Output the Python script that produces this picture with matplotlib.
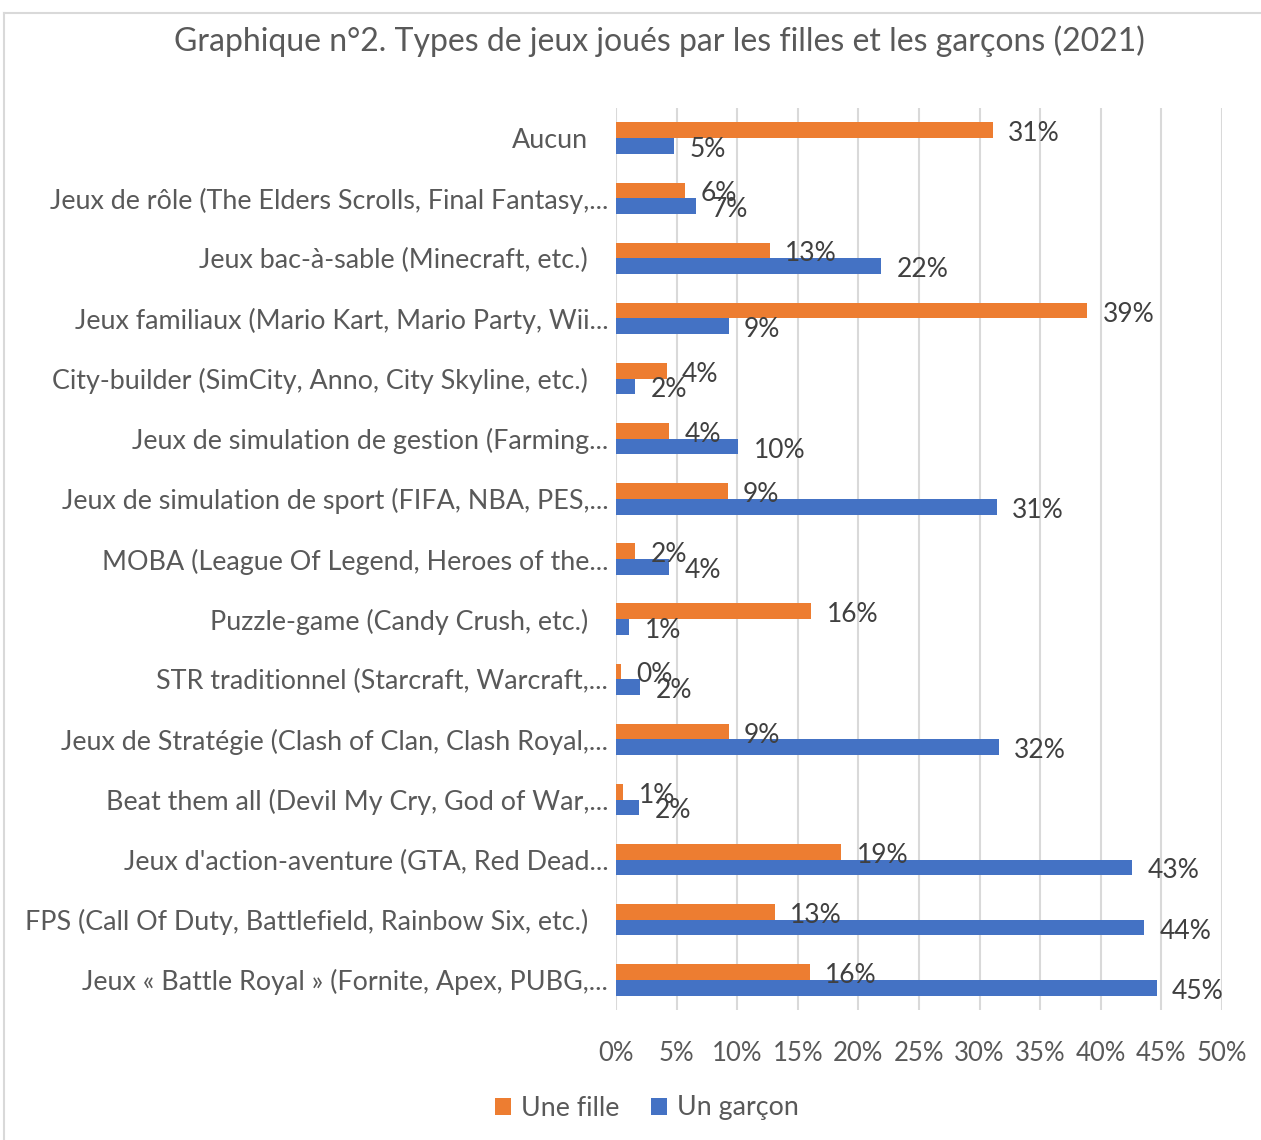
import matplotlib
matplotlib.use("Agg")
import matplotlib.pyplot as plt
from matplotlib.transforms import ScaledTranslation
from matplotlib.lines import Line2D
import numpy as np

categories = [
    "Aucun",
    "Jeux de rôle (The Elders Scrolls, Final Fantasy,...",
    "Jeux bac-à-sable (Minecraft, etc.)",
    "Jeux familiaux (Mario Kart, Mario Party, Wii...",
    "City-builder (SimCity, Anno, City Skyline, etc.)",
    "Jeux de simulation de gestion (Farming...",
    "Jeux de simulation de sport (FIFA, NBA, PES,...",
    "MOBA (League Of Legend, Heroes of the...",
    "Puzzle-game (Candy Crush, etc.)",
    "STR traditionnel (Starcraft, Warcraft,...",
    "Jeux de Stratégie (Clash of Clan, Clash Royal,...",
    "Beat them all (Devil My Cry, God of War,...",
    "Jeux d'action-aventure (GTA, Red Dead...",
    "FPS (Call Of Duty, Battlefield, Rainbow Six, etc.)",
    "Jeux « Battle Royal » (Fornite, Apex, PUBG,...",
]
fille = [31.1, 5.7, 12.7, 38.9, 4.2, 4.4, 9.2, 1.6, 16.1, 0.4, 9.3, 0.6, 18.6, 13.1, 16.0]
garcon = [4.8, 6.6, 21.9, 9.3, 1.6, 10.1, 31.4, 4.4, 1.1, 2.0, 31.6, 1.9, 42.6, 43.6, 44.6]
series_names = ["Une fille", "Un garçon"]
xticks = [0, 5, 10, 15, 20, 25, 30, 35, 40, 45, 50]
title = "Graphique n°2. Types de jeux joués par les filles et les garçons (2021)"

ORANGE = "#ED7D31"
BLUE = "#4472C4"
TXT = "#595959"
LBL = "#404040"
FONT = "Lato"
FS_CAT = 19.4
FS_LBL = 19
FS_TICK = 18.5
FS_LEG = 19.3
FS_TITLE = 23

plt.rcParams["font.family"] = [FONT, "DejaVu Sans"]

W, H = 1261, 1140
fig = plt.figure(figsize=(W / 100, H / 100), dpi=100)
ax = fig.add_axes([616 / W, 1 - 1010 / H, (1222 - 616) / W, (1010 - 108) / H])

y = np.arange(len(categories))
h = 0.26
c1 = ax.barh(y - h / 2, fille, height=h, color=ORANGE, label=series_names[0], zorder=3)
c2 = ax.barh(y + h / 2, garcon, height=h, color=BLUE, label=series_names[1], zorder=3)

anns = []
anns += ax.bar_label(c1, labels=[f"{v:.0f}%" for v in fille], padding=11, fontsize=FS_LBL, color=LBL)
anns += ax.bar_label(c2, labels=[f"{v:.0f}%" for v in garcon], padding=11, fontsize=FS_LBL, color=LBL)
for a in anns:
    a.xyann = (11, -2.5)

ax.set_xlim(0, 50)
ax.set_ylim(len(categories) - 0.5, -0.5)
ax.set_xticks(xticks)
ax.set_xticklabels([f"{t}%" for t in xticks], fontsize=FS_TICK, color=TXT)
ax.set_yticks(y)
ax.set_yticklabels(categories, fontsize=FS_CAT, color=TXT)
ax.tick_params(axis="both", length=0)
ax.tick_params(axis="x", pad=22.5)
ax.tick_params(axis="y", pad=20)

for lab in ax.get_yticklabels():
    if lab.get_text().endswith("..."):
        lab.set_transform(lab.get_transform() + ScaledTranslation(20 / 100, 0, fig.dpi_scale_trans))

ax.grid(axis="x", color="#D9D9D9", linewidth=1.5, zorder=0)
ax.set_axisbelow(True)
for s in ax.spines.values():
    s.set_visible(False)

fig.text(659 / W, 1 - 41 / H, title, ha="center", va="center", fontsize=FS_TITLE, color=TXT)

fig.legend(handles=[c1, c2], labels=series_names, loc="center",
           bbox_to_anchor=(647 / W, 1 - 1108 / H), ncol=2, frameon=False,
           fontsize=FS_LEG, handlelength=0.6, handleheight=0.6, handletextpad=0.35,
           columnspacing=1.2, labelcolor=TXT)

fig.add_artist(Line2D([4 / W, 4 / W], [0, 1 - 13 / H], transform=fig.transFigure, color="#D9D9D9", lw=1.5))
fig.add_artist(Line2D([4 / W, 1], [1 - 13 / H, 1 - 13 / H], transform=fig.transFigure, color="#D9D9D9", lw=1.5))

fig.savefig("out.png", dpi=100)
